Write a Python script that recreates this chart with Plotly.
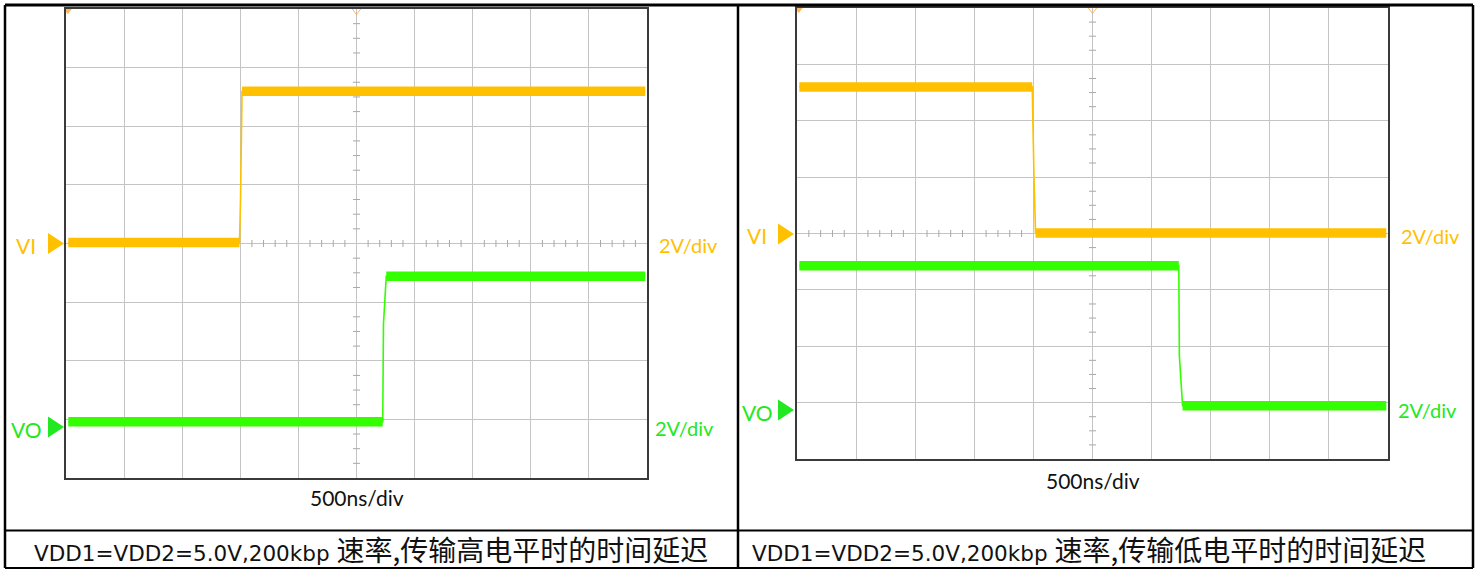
import plotly.graph_objects as go

W, H = 1481, 570

# ---------------- data (time in ns, voltage in V) ----------------
# Panel 1: high level transmission
P1_VI_T = [-2480, -1007, -998, -985, 2485]
P1_VI_V = [0.03, 0.03, 1.5, 5.19, 5.19]
P1_VO_T = [-2480, 226, 232, 256, 2485]
P1_VO_V = [0.17, 0.17, 3.5, 5.13, 5.13]
# Panel 2: low level transmission
P2_VI_T = [-2480, -510, -495, -482, 2485]
P2_VI_V = [5.2, 5.2, 2.0, 0.02, 0.02]
P2_VO_T = [-2480, 730, 735, 762, 2485]
P2_VO_V = [5.11, 5.11, 1.9, 0.14, 0.14]

CHANNELS = ["VI", "VO"]
CH_OFFSET = [0.0, -6.25]          # on-screen ground offset (V)
SCALE_LABELS = ["2V/div", "2V/div"]
TIME_LABEL = "500ns/div"
CAPTION_LATIN = ["VDD1=VDD2=5.0V,200kbp", "VDD1=VDD2=5.0V,200kbp"]
CAPTION_CJK = ["速率,传输高电平时的时间延迟", "速率,传输低电平时的时间延迟"]

TIME_DIV = 500
VOLT_DIV = 2
N_XDIV, N_YDIV = 10, 8

# ---------------- styles ----------------
VI_COLOR = "#FFC000"
VO_COLOR = "#33FF00"
VO_TEXT = "#22E822"
GRID = "#c4c4c4"
FONT = "Lato, 'Noto Sans CJK SC', sans-serif"


def px(x):
    return x / W


def py(y):
    return 1 - y / H


panels = [
    dict(data=[(P1_VI_T, P1_VI_V), (P1_VO_T, P1_VO_V)],
         dom_x=(66, 647), dom_y=(9, 478), lab_x=26, tri_x=(48, 64),
         ground_px=(243.5, 427), scale_x=(688, 684), scale_y=(245, 428),
         time_xy=(357, 497), cap_xy=(370.5, 549)),
    dict(data=[(P2_VI_T, P2_VI_V), (P2_VO_T, P2_VO_V)],
         dom_x=(797, 1388), dom_y=(8, 459), lab_x=757, tri_x=(778, 794),
         ground_px=(234, 410), scale_x=(1430, 1427), scale_y=(236, 410),
         time_xy=(1093, 480), cap_xy=(1089, 549)),
]

fig = go.Figure()
annotations = []
shapes = []
xr = [-TIME_DIV * N_XDIV / 2, TIME_DIV * N_XDIV / 2]
yr = [-VOLT_DIV * N_YDIV / 2, VOLT_DIV * N_YDIV / 2]
colors = [VI_COLOR, VO_COLOR]
text_colors = [VI_COLOR, VO_TEXT]

for i, p in enumerate(panels):
    xa = "x" if i == 0 else "x2"
    ya = "y" if i == 0 else "y2"
    # minor ticks on centre lines
    mt_x = [k * TIME_DIV / 5 for k in range(-24, 25) if k % 5 != 0]
    fig.add_trace(go.Scatter(x=mt_x, y=[0] * len(mt_x), mode="markers", xaxis=xa, yaxis=ya,
                             marker=dict(symbol="line-ns", size=5, line=dict(color="#a8a8a8", width=1)),
                             hoverinfo="skip", showlegend=False))
    mt_y = [k * VOLT_DIV / 4 for k in range(-15, 16) if k % 4 != 0]
    fig.add_trace(go.Scatter(x=[0] * len(mt_y), y=mt_y, mode="markers", xaxis=xa, yaxis=ya,
                             marker=dict(symbol="line-ew", size=5, line=dict(color="#a8a8a8", width=1)),
                             hoverinfo="skip", showlegend=False))
    # waveforms
    for c, (t, v) in enumerate(p["data"]):
        off = CH_OFFSET[c]
        ys = [vv + off for vv in v]
        fig.add_trace(go.Scatter(x=[t[0], t[1], None, t[-2], t[-1]],
                                 y=[ys[0], ys[1], None, ys[-2], ys[-1]],
                                 mode="lines", xaxis=xa, yaxis=ya,
                                 line=dict(color=colors[c], width=9.5),
                                 hoverinfo="skip", showlegend=False))
        fig.add_trace(go.Scatter(x=t, y=ys, mode="lines", xaxis=xa, yaxis=ya,
                                 line=dict(color=colors[c], width=1.6),
                                 hoverinfo="skip", showlegend=False))
    # top trigger markers
    fig.add_trace(go.Scatter(x=[xr[0] + 15, 0], y=[yr[1] - 0.05, yr[1] - 0.05], mode="markers",
                             xaxis=xa, yaxis=ya, cliponaxis=False,
                             marker=dict(symbol=["triangle-down", "triangle-down-open"],
                                         size=[6, 8], color="#FF9A1A", line=dict(width=1, color="#FF9A1A")),
                             hoverinfo="skip", showlegend=False))

    # channel labels, ground triangles, scale labels
    for c in range(2):
        gy = p["ground_px"][c]
        annotations.append(dict(x=px(p["lab_x"]), y=py(gy + 2), xref="paper", yref="paper",
                                text=CHANNELS[c], showarrow=False, xanchor="center", yanchor="middle",
                                font=dict(family=FONT, size=21, color=text_colors[c])))
        x0, x1 = p["tri_x"]
        shapes.append(dict(type="path", xref="paper", yref="paper",
                           path=f"M {px(x0)},{py(gy - 10.5)} L {px(x0)},{py(gy + 10.5)} L {px(x1)},{py(gy)} Z",
                           fillcolor=text_colors[c], line=dict(width=0)))
        annotations.append(dict(x=px(p["scale_x"][c]), y=py(p["scale_y"][c]), xref="paper", yref="paper",
                                text=SCALE_LABELS[c], showarrow=False, xanchor="center", yanchor="middle",
                                font=dict(family=FONT, size=20, color=text_colors[c])))
    annotations.append(dict(x=px(p["time_xy"][0]), y=py(p["time_xy"][1]), xref="paper", yref="paper",
                            text=TIME_LABEL, showarrow=False, xanchor="center", yanchor="middle",
                            font=dict(family=FONT, size=21, color="#111111")))
    cap = (f"<span style=\"font-family:'DejaVu Sans';font-size:21.5px\">{CAPTION_LATIN[i]} </span>"
           f"<span style=\"font-family:'Noto Sans CJK SC';font-size:28px\">{CAPTION_CJK[i]}</span>")
    annotations.append(dict(x=px(p["cap_xy"][0]), y=py(p["cap_xy"][1]), xref="paper", yref="paper",
                            text=cap, showarrow=False, xanchor="center", yanchor="middle",
                            font=dict(family="'Noto Sans CJK SC'", size=24, color="#111111")))

axis_common = dict(showgrid=True, gridcolor=GRID, gridwidth=1, zeroline=True, zerolinecolor=GRID,
                   zerolinewidth=1, showticklabels=False, ticks="", showline=True, linecolor="#3a3a3a",
                   linewidth=2, mirror=True, fixedrange=True)

fig.update_layout(
    width=W, height=H, autosize=False,
    margin=dict(l=0, r=0, t=0, b=0, pad=0),
    paper_bgcolor="white", plot_bgcolor="white",
    showlegend=False,
    xaxis=dict(domain=[px(66), px(647)], range=xr, dtick=TIME_DIV, tick0=0, anchor="y", **axis_common),
    yaxis=dict(domain=[py(478), py(9)], range=yr, dtick=VOLT_DIV, tick0=0, anchor="x", **axis_common),
    xaxis2=dict(domain=[px(797), px(1388)], range=xr, dtick=TIME_DIV, tick0=0, anchor="y2", **axis_common),
    yaxis2=dict(domain=[py(459), py(8)], range=yr, dtick=VOLT_DIV, tick0=0, anchor="x2", **axis_common),
    annotations=annotations,
)

# table borders
BL = "#000000"
table = [
    (5, 5, 1473, 5, 3),
    (5, 568, 1473, 568, 2),
    (5, 5, 5, 568, 2.5),
    (1473, 5, 1473, 568, 2.5),
    (738, 5, 738, 568, 2.5),
    (5, 530.5, 1473, 530.5, 2),
]
for x0, y0, x1, y1, w in table:
    shapes.append(dict(type="line", xref="paper", yref="paper", x0=px(x0), y0=py(y0), x1=px(x1), y1=py(y1),
                       line=dict(color=BL, width=w)))
fig.update_layout(shapes=shapes)

fig.write_html("out.html", config={"displayModeBar": False},
               post_script="document.body.style.margin='0px';document.body.style.overflow='hidden';")
